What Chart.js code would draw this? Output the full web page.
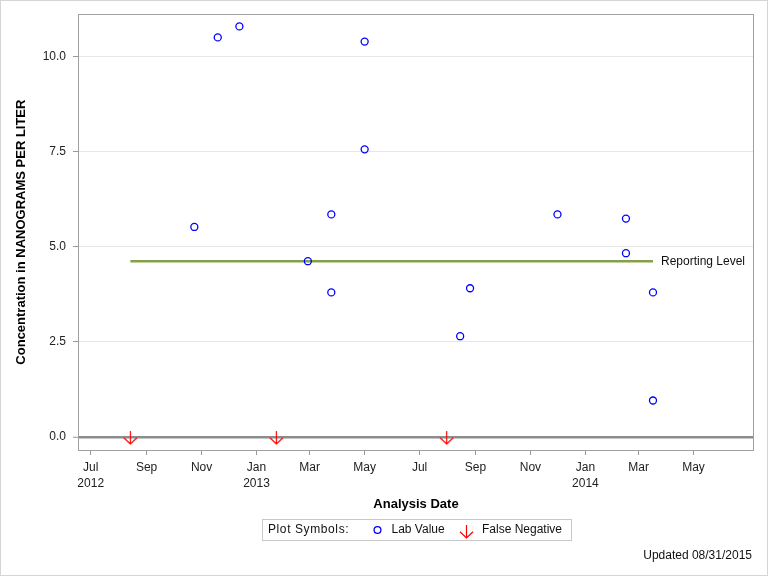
<!DOCTYPE html>
<html>
<head>
<meta charset="utf-8">
<script src="https://cdn.jsdelivr.net/npm/chart.js@4.4.0/dist/chart.umd.min.js"></script>
<style>
html,body{margin:0;padding:0;background:#fff;}
#wrap{width:768px;height:576px;position:relative;}
</style>
</head>
<body>
<div id="wrap"><canvas id="c" width="768" height="576"></canvas></div>
<script>
// ---- data ----
const labDates = ['2012-10-24','2012-11-19','2012-12-13','2013-02-27','2013-03-25','2013-03-25','2013-05-01','2013-05-01','2013-08-15','2013-08-26','2013-12-01','2014-02-15','2014-02-15','2014-03-17','2014-03-17'];
const labValues = [5.52,10.50,10.79,4.62,5.85,3.80,10.39,7.56,2.65,3.91,5.85,5.74,4.83,3.80,0.96];
const falseNegDates = ['2012-08-14','2013-01-23','2013-07-31'];
const falseNegValues = [0,0,0];
const reportingDates = ['2012-08-14','2014-03-17'];
const reportingValues = [4.62,4.62];
const xTickDates = ['2012-07-01','2012-09-01','2012-11-01','2013-01-01','2013-03-01','2013-05-01','2013-07-01','2013-09-01','2013-11-01','2014-01-01','2014-03-01','2014-05-01'];
const xTickLabels = [['Jul','2012'],'Sep','Nov',['Jan','2013'],'Mar','May','Jul','Sep','Nov',['Jan','2014'],'Mar','May'];
const yTicks = [0,2.5,5,7.5,10];
const xRange = ['2012-06-18','2014-07-06'];
const yRange = [-0.34,11.11];

function toMs(s){const p=s.split('-').map(Number);return Date.UTC(p[0],p[1]-1,p[2]);}

const FONT = "'Liberation Sans', Arial, Helvetica, sans-serif";
Chart.defaults.font.family = FONT;
Chart.defaults.font.size = 12;
Chart.defaults.color = '#222';

function makeArrow(){
  const c = document.createElement('canvas');
  c.width = 15; c.height = 16;
  const g = c.getContext('2d');
  g.strokeStyle = '#ff0000';
  g.lineWidth = 1.2;
  g.beginPath();
  g.moveTo(7.5,2); g.lineTo(7.5,15);
  g.moveTo(1,8.7); g.lineTo(7.5,15); g.lineTo(14,8.7);
  g.stroke();
  return c;
}
const arrowImg = makeArrow();

const decor = {
  id:'decor',
  beforeDatasetsDraw(chart){
    const {ctx, chartArea:a} = chart;
    ctx.save();
    ctx.strokeStyle = '#a0a0a0';
    ctx.lineWidth = 1;
    ctx.strokeRect(Math.round(a.left)-0.5, Math.round(a.top)+0.5, Math.round(a.right-a.left)+1, Math.round(a.bottom-a.top));
    ctx.restore();
  },
  afterDraw(chart){
    const {ctx, chartArea:a, scales} = chart;
    ctx.save();
    // outer border
    ctx.strokeStyle = '#d4d4d4';
    ctx.lineWidth = 1;
    ctx.strokeRect(0.5,0.5,767,575);
    ctx.fillStyle = '#000';
    // y title
    ctx.font = "bold 13px " + FONT;
    ctx.textAlign = 'center';
    ctx.textBaseline = 'middle';
    ctx.save();
    ctx.translate(21,(a.top+a.bottom)/2);
    ctx.rotate(-Math.PI/2);
    ctx.fillText('Concentration in NANOGRAMS PER LITER',0,0);
    ctx.restore();
    // x title
    ctx.fillText('Analysis Date',(a.left+a.right)/2,504);
    // reporting level label
    ctx.font = "12px " + FONT;
    ctx.fillStyle = '#111';
    ctx.textAlign = 'left';
    const rx = scales.x.getPixelForValue(toMs(reportingDates[1]));
    const ry = scales.y.getPixelForValue(reportingValues[1]);
    ctx.fillText('Reporting Level', rx+8, ry);
    // legend
    ctx.strokeStyle = '#c8c8c8';
    ctx.strokeRect(262.5,519.5,309,21);
    ctx.fillStyle = '#111';
    try { ctx.letterSpacing = '0.6px'; } catch(e) {}
    ctx.fillText('Plot Symbols:',268,530);
    try { ctx.letterSpacing = '0px'; } catch(e) {}
    ctx.strokeStyle = '#0000ff';
    ctx.lineWidth = 1.3;
    ctx.beginPath(); ctx.arc(377.5,530,3.4,0,Math.PI*2); ctx.stroke();
    ctx.fillText('Lab Value',391.5,530);
    ctx.drawImage(arrowImg, 466.5-7.5, 523);
    ctx.fillText('False Negative',482,530);
    // updated
    ctx.textAlign = 'right';
    ctx.fillText('Updated 08/31/2015',752,556);
    ctx.restore();
  }
};

new Chart(document.getElementById('c'), {
  type:'scatter',
  data:{
    datasets:[
      {
        label:'Lab Value',
        data: labDates.map((d,i)=>({x:toMs(d),y:labValues[i]})),
        pointStyle:'circle',
        pointRadius:3.5,
        borderWidth:1.3,
        borderColor:'#0000ff',
        backgroundColor:'rgba(255,255,255,0)',
        order:0
      },
      {
        label:'False Negative',
        data: falseNegDates.map((d,i)=>({x:toMs(d),y:falseNegValues[i]})),
        pointStyle: arrowImg,
        pointRadius:6,
        order:1
      },
      {
        label:'Reporting Level',
        type:'line',
        data: reportingDates.map((d,i)=>({x:toMs(d),y:reportingValues[i]})),
        showLine:true,
        borderColor:'#86a04a',
        borderWidth:2.5,
        pointRadius:0,
        fill:false,
        order:2
      }
    ]
  },
  options:{
    responsive:false,
    animation:false,
    devicePixelRatio:1,
    layout:{padding:{top:13,right:15,left:0,bottom:0}},
    plugins:{legend:{display:false},tooltip:{enabled:false}},
    scales:{
      x:{
        type:'linear',
        min:toMs(xRange[0]),
        max:toMs(xRange[1]),
        afterBuildTicks(s){ s.ticks = xTickDates.map(d=>({value:toMs(d)})); },
        afterFit(s){ s.height = 126; },
        ticks:{
          autoSkip:false, maxRotation:0, minRotation:0, padding:5,
          font:{size:12, lineHeight:1.3}, color:'#222',
          callback:(v,i)=>xTickLabels[i]
        },
        grid:{display:true, drawOnChartArea:false, drawTicks:true, tickLength:5, tickColor:'#999', tickWidth:1},
        border:{display:false}
      },
      y:{
        type:'linear',
        min:yRange[0],
        max:yRange[1],
        afterBuildTicks(s){ s.ticks = yTicks.map(v=>({value:v})); },
        afterFit(s){ s.width = 79; },
        ticks:{padding:7, font:{size:12}, color:'#222', callback:v=>Number(v).toFixed(1)},
        grid:{
          color:c=>c.tick && c.tick.value===0 ? '#8c8c8c' : '#e6e6e6',
          lineWidth:c=>c.tick && c.tick.value===0 ? 2.5 : 1,
          drawTicks:true, tickLength:6, tickColor:'#999', tickWidth:1
        },
        border:{display:false}
      }
    }
  },
  plugins:[decor]
});
</script>
</body>
</html>
